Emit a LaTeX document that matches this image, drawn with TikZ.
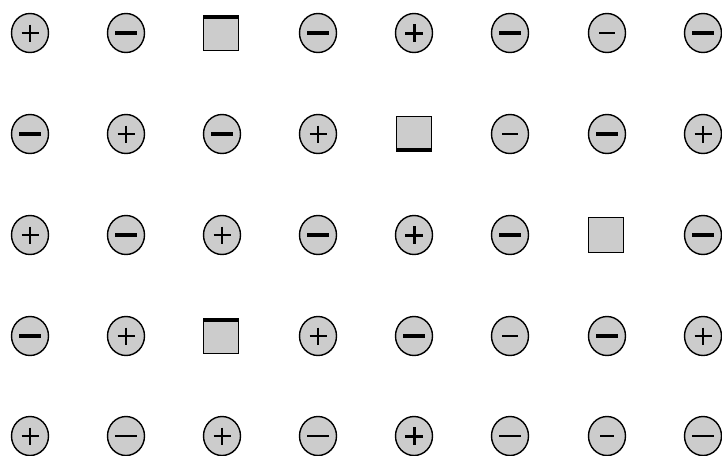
\documentclass[tikz,border=0pt]{standalone}
\usetikzlibrary{shapes.geometric}
\definecolor{ionfill}{gray}{.8}
\tikzset{ion/.style={ellipse,draw,fill=ionfill,line width=1.4,minimum width=37,minimum height=39,inner sep=0},
 pion/.style 2 args={ion,path picture={\draw[shift={(path picture bounding box.center)},line width=#1](-#2,0)--(#2,0)(0,-#2)--(0,#2);}},
 nion/.style 2 args={ion,path picture={\draw[shift={(path picture bounding box.center)},line width=#1](-#2,0)--(#2,0);}},
 pt/.style={pion={1.2}{8.5}},pb/.style={pion={3}{9}},
 mt/.style={nion={1.5}{8}},mb/.style={nion={3.2}{11}},mm/.style={nion={2.2}{11}},ms/.style={nion={2.2}{7}},
 vac/.style={rectangle,draw,fill=ionfill,line width=1.4,minimum size=35,inner sep=0},
 vacedge/.style={line width=3.2,line cap=rect}}
\begin{document}
\begin{tikzpicture}[x=1pt,y=-1pt]
\useasboundingbox (0,0) rectangle (722,455);
% row 1
\node[pt](a1)at(30,33){};\node[mb](a2)at(126,33){};\node[vac](a3)at(221,33){};\node[mb](a4)at(318,33){};
\node[pb](a5)at(414,33){};\node[mb](a6)at(510,33){};\node[mt](a7)at(607,33){};\node[mb](a8)at(703,33){};
% row 2
\node[mb](b1)at(30,134){};\node[pt](b2)at(126,134){};\node[mb](b3)at(222,134){};\node[pt](b4)at(318,134){};
\node[vac](b5)at(414,134){};\node[mt](b6)at(510,134){};\node[mb](b7)at(607,134){};\node[pt](b8)at(703,134){};
% row 3
\node[pt](c1)at(30,235){};\node[mb](c2)at(126,235){};\node[pt](c3)at(222,235){};\node[mb](c4)at(318,235){};
\node[pb](c5)at(414,235){};\node[mb](c6)at(510,235){};\node[vac](c7)at(606,235){};\node[mb](c8)at(703,235){};
% row 4
\node[mb](d1)at(30,336){};\node[pt](d2)at(126,336){};\node[vac](d3)at(221,336){};\node[pt](d4)at(318,336){};
\node[mb](d5)at(414,336){};\node[mt](d6)at(510,336){};\node[mb](d7)at(607,336){};\node[pt](d8)at(703,336){};
% row 5
\node[pt](e1)at(30,436){};\node[mm](e2)at(126,436){};\node[pt](e3)at(222,436){};\node[mm](e4)at(318,436){};
\node[pb](e5)at(414,436){};\node[mm](e6)at(510,436){};\node[ms](e7)at(607,436){};\node[mm](e8)at(703,436){};
% heavy edges of the empty sites
\draw[vacedge]([shift={(2.3,2.3)}]a3.north west)--([shift={(-2.3,2.3)}]a3.north east);
\draw[vacedge]([shift={(2.3,2.3)}]d3.north west)--([shift={(-2.3,2.3)}]d3.north east);
\draw[vacedge]([shift={(2.3,-2.3)}]b5.south west)--([shift={(-2.3,-2.3)}]b5.south east);
\end{tikzpicture}
\end{document}
